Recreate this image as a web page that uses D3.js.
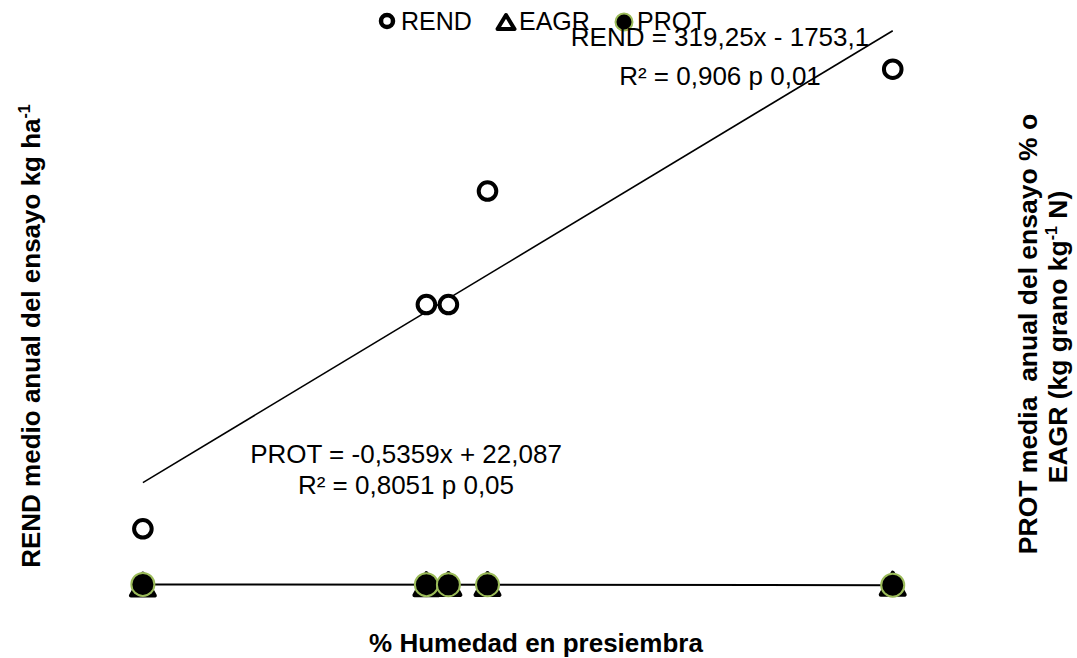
<!DOCTYPE html>
<html>
<head>
<meta charset="utf-8">
<script src="https://cdn.jsdelivr.net/npm/d3@7"></script>
<style>
  * { margin: 0; padding: 0; }
  body { background: white; }
  svg { font-family: "Liberation Sans", Arial, sans-serif; }
  .axis-title { font-weight: bold; font-size: 26px; }
  .eq { font-size: 26px; }
  .legend text { font-size: 25px; }
</style>
</head>
<body>
<svg id="chart" width="1077" height="658"></svg>
<script>
  // % humedad en presiembra
  const humedad = [9.0, 14.8, 15.25, 16.05, 24.34];
  // kg/ha
  const rend = [620, 3050, 3050, 4280, 5600];
  // % proteina, plotted on the same scale (sits on the floor)
  const prot = [17.3, 14.2, 13.9, 13.5, 9.3];
  const eagr = [15, 20, 21, 22, 25];

  const rendFit = { slope: 319.25, intercept: -1753.1 };
  const protFit = { slope: -0.5359, intercept: 22.087 };

  const green = "#9bbb59";
  const svg = d3.select("#chart");

  const x = d3.scaleLinear().domain([8, 25]).range([94, 925]);
  const y = d3.scaleLinear().domain([0, 6000]).range([586, 32.3]);

  const pts = humedad.map((h, i) => ({ h, rend: rend[i], prot: prot[i], eagr: eagr[i] }));
  const xr = d3.extent(humedad);

  const line = d3.line().x(d => x(d[0])).y(d => y(d[1]));

  // trendlines
  svg.append("path")
    .attr("d", line(xr.map(v => [v, rendFit.slope * v + rendFit.intercept])))
    .attr("fill", "none").attr("stroke", "black").attr("stroke-width", 1.6);
  svg.append("path")
    .attr("d", line(xr.map(v => [v, protFit.slope * v + protFit.intercept])))
    .attr("fill", "none").attr("stroke", "black").attr("stroke-width", 2);

  // triangle centred on its box, like spreadsheet markers
  const tri = (cx, cy, w, h) =>
    `M${cx},${cy - h / 2}L${cx + w / 2},${cy + h / 2}L${cx - w / 2},${cy + h / 2}Z`;

  // REND
  svg.append("g").selectAll("circle")
    .data(pts).join("circle")
    .attr("cx", d => x(d.h)).attr("cy", d => y(d.rend))
    .attr("r", 8.8).attr("fill", "white")
    .attr("stroke", "black").attr("stroke-width", 4);

  // EAGR
  svg.append("g").selectAll("path")
    .data(pts).join("path")
    .attr("d", d => tri(x(d.h), y(d.eagr), 24, 22))
    .attr("fill", "white").attr("stroke", "black")
    .attr("stroke-width", 4).attr("stroke-linejoin", "round");

  // PROT
  svg.append("g").selectAll("circle")
    .data(pts).join("circle")
    .attr("cx", d => x(d.h)).attr("cy", d => y(d.prot))
    .attr("r", 11.5).attr("fill", "black")
    .attr("stroke", green).attr("stroke-width", 2);

  // legend
  const lg = svg.append("g").attr("class", "legend");
  lg.append("circle").attr("cx", 387).attr("cy", 21).attr("r", 6)
    .attr("fill", "white").attr("stroke", "black").attr("stroke-width", 4.5);
  lg.append("text").attr("x", 401).attr("y", 30).text("REND");
  lg.append("path").attr("d", tri(506, 22, 17, 14))
    .attr("fill", "white").attr("stroke", "black")
    .attr("stroke-width", 4).attr("stroke-linejoin", "round");
  lg.append("text").attr("x", 519).attr("y", 30).text("EAGR");
  lg.append("circle").attr("cx", 624).attr("cy", 22).attr("r", 8.5)
    .attr("fill", "black").attr("stroke", green).attr("stroke-width", 2);
  lg.append("text").attr("x", 637).attr("y", 30).text("PROT");

  // regression labels
  const eqR = svg.append("text").attr("class", "eq").attr("text-anchor", "middle");
  eqR.append("tspan").attr("x", 720).attr("y", 46).text("REND = 319,25x - 1753,1");
  eqR.append("tspan").attr("x", 720).attr("y", 85).text("R² = 0,906 p 0,01");

  const eqP = svg.append("text").attr("class", "eq").attr("text-anchor", "middle");
  eqP.append("tspan").attr("x", 406).attr("y", 463).text("PROT = -0,5359x + 22,087");
  eqP.append("tspan").attr("x", 406).attr("y", 494).text("R² = 0,8051 p 0,05");

  // axis titles
  svg.append("text").attr("class", "axis-title")
    .attr("x", 536).attr("y", 652).attr("text-anchor", "middle")
    .text("% Humedad en presiembra");

  const sup = (t, main, s, after) => {
    t.append("tspan").text(main);
    t.append("tspan").attr("font-size", "16px").attr("dy", -10).text(s);
    if (after) t.append("tspan").attr("dy", 10).text(after);
  };

  const lt = svg.append("text").attr("class", "axis-title")
    .attr("text-anchor", "middle")
    .attr("transform", "translate(40,336) rotate(-90)");
  sup(lt, "REND medio anual del ensayo kg ha", "-1");

  const rt = svg.append("text").attr("class", "axis-title")
    .attr("text-anchor", "middle").style("white-space", "pre")
    .style("font-size", "26.5px")
    .attr("transform", "translate(1037,334) rotate(-90)");
  rt.append("tspan").attr("x", 0).attr("y", 0).text("PROT media  anual del ensayo % o");
  const rt2 = svg.append("text").attr("class", "axis-title")
    .attr("text-anchor", "middle").style("font-size", "26.5px")
    .attr("transform", "translate(1067,337) rotate(-90)");
  sup(rt2, "EAGR (kg grano kg", "-1", " N)");
</script>
</body>
</html>
